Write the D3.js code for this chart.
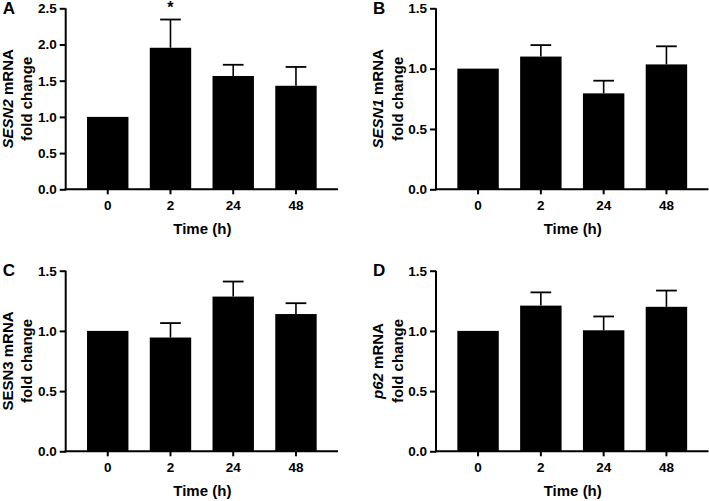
<!DOCTYPE html>
<html>
<head>
<meta charset="utf-8">
<script src="https://cdn.jsdelivr.net/npm/d3@7"></script>
<style>
  html, body { margin: 0; padding: 0; background: #fff; }
  svg { display: block; }
  text { font-family: "Liberation Sans", Arial, sans-serif; font-weight: bold; fill: #000; }
</style>
</head>
<body>
<svg id="chart" width="709" height="501"></svg>
<script>
// ---- data ----
const timeLabels = ["0", "2", "24", "48"];

const sesn2Mean = [1.0, 1.955, 1.565, 1.43];
const sesn2Err  = [0, 0.39, 0.155, 0.26];

const sesn1Mean = [1.0, 1.10, 0.795, 1.035];
const sesn1Err  = [0, 0.095, 0.105, 0.15];

const sesn3Mean = [1.0, 0.945, 1.285, 1.14];
const sesn3Err  = [0, 0.12, 0.125, 0.09];

const p62Mean = [1.0, 1.21, 1.005, 1.20];
const p62Err  = [0, 0.11, 0.115, 0.135];

const ticksA = [0, 0.5, 1.0, 1.5, 2.0, 2.5];
const ticksBCD = [0, 0.5, 1.0, 1.5];

const significance = { A: ["", "*", "", ""] };

const panels = [
  { id: "A", gene: "SESN2", geneItalic: true,  mean: sesn2Mean, err: sesn2Err, ymax: 2.5, ticks: ticksA,
    left: 65.7, right: 338, top: 8.3, bottom: 189.3 },
  { id: "B", gene: "SESN1", geneItalic: true,  mean: sesn1Mean, err: sesn1Err, ymax: 1.5, ticks: ticksBCD,
    left: 436, right: 708.5, top: 8.3, bottom: 189.3 },
  { id: "C", gene: "SESN3", geneItalic: false, mean: sesn3Mean, err: sesn3Err, ymax: 1.5, ticks: ticksBCD,
    left: 65.7, right: 338, top: 270.7, bottom: 451.3 },
  { id: "D", gene: "p62",   geneItalic: true,  mean: p62Mean,  err: p62Err,  ymax: 1.5, ticks: ticksBCD,
    left: 436, right: 708.5, top: 270.7, bottom: 451.3 }
];

const svg = d3.select("#chart");

panels.forEach(p => {
  const g = svg.append("g");
  const x = d3.scaleBand().domain(timeLabels).range([p.left, p.right]).padding(0.34);
  const y = d3.scaleLinear().domain([0, p.ymax]).range([p.bottom, p.top]);

  // bars
  g.selectAll("rect.bar").data(p.mean).enter().append("rect")
    .attr("class", "bar")
    .attr("x", (d, i) => x(timeLabels[i]))
    .attr("width", x.bandwidth())
    .attr("y", d => y(d))
    .attr("height", d => y(0) - y(d))
    .attr("fill", "#000");

  // error bars (upward only)
  const capW = x.bandwidth() * 0.5;
  p.mean.forEach((m, i) => {
    const e = p.err[i];
    if (!e) return;
    const cx = x(timeLabels[i]) + x.bandwidth() / 2;
    g.append("line").attr("x1", cx).attr("x2", cx).attr("y1", y(m)).attr("y2", y(m + e))
      .attr("stroke", "#000").attr("stroke-width", 1.6);
    g.append("line").attr("x1", cx - capW / 2).attr("x2", cx + capW / 2).attr("y1", y(m + e)).attr("y2", y(m + e))
      .attr("stroke", "#000").attr("stroke-width", 1.8);
  });

  // significance
  const sig = significance[p.id];
  if (sig) {
    sig.forEach((s, i) => {
      if (!s) return;
      const cx = x(timeLabels[i]) + x.bandwidth() / 2;
      g.append("text").attr("x", cx).attr("y", y(p.mean[i] + p.err[i]) - 6.5)
        .attr("text-anchor", "middle").style("font-size", "16px").text(s);
    });
  }

  // axes
  const yAxis = d3.axisLeft(y).tickValues(p.ticks).tickFormat(d3.format(".1f")).tickSize(6).tickPadding(3);
  const ya = g.append("g").attr("transform", `translate(${p.left},0)`).call(yAxis);
  const xAxis = d3.axisBottom(x).tickSize(5).tickPadding(5);
  const xa = g.append("g").attr("transform", `translate(0,${p.bottom})`).call(xAxis);
  [ya, xa].forEach(a => {
    a.selectAll(".tick line").attr("stroke", "#000").attr("stroke-width", 2);
    a.selectAll(".tick text").attr("fill", "#000")
      .style("font-family", "'Liberation Sans', Arial, sans-serif")
      .style("font-weight", "bold").style("font-size", "13.5px");
  });
  ya.select(".domain").remove();
  xa.select(".domain").remove();
  g.append("line").attr("x1", p.left).attr("x2", p.left).attr("y1", p.top).attr("y2", p.bottom + 1)
    .attr("stroke", "#000").attr("stroke-width", 2);
  g.append("line").attr("x1", p.left - 1).attr("x2", p.right).attr("y1", p.bottom).attr("y2", p.bottom)
    .attr("stroke", "#000").attr("stroke-width", 2);
  xa.selectAll(".tick text").attr("dy", null).attr("y", 20.5);

  // x title
  g.append("text").attr("x", (p.left + p.right) / 2 + 0.5).attr("y", p.bottom + 44.5)
    .attr("text-anchor", "middle").style("font-size", "15px").text("Time (h)");

  // y title
  const cy = (p.top + p.bottom) / 2;
  const t1 = g.append("text").attr("transform", `translate(${p.left - 53},${cy}) rotate(-90)`)
    .attr("text-anchor", "middle").style("font-size", "15px");
  t1.append("tspan").style("font-style", p.geneItalic ? "italic" : "normal").text(p.gene);
  t1.append("tspan").text(" mRNA");
  g.append("text").attr("transform", `translate(${p.left - 33.5},${cy}) rotate(-90)`)
    .attr("text-anchor", "middle").style("font-size", "15px").text("fold change");

  // panel label
  g.append("text").attr("x", p.left - 63).attr("y", p.top + 5.5)
    .style("font-size", "17px").text(p.id);
});
</script>
</body>
</html>
